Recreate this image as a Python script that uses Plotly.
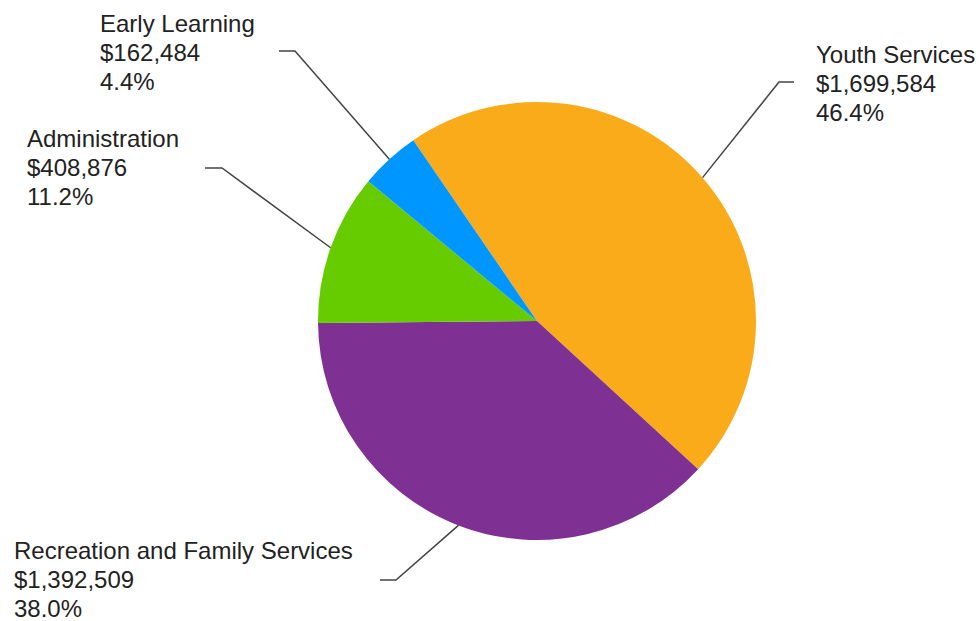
import math
import plotly.graph_objects as go

# ---- data ----
categories = ["Youth Services", "Recreation and Family Services", "Administration", "Early Learning"]
amounts = [1699584, 1392509, 408876, 162484]
slice_colors = ["#FAAB19", "#7F3193", "#66CC00", "#0096FF"]

# ---- layout constants (pixels) ----
W, H = 979, 621
CX, CY, R = 537, 321, 219
ROTATION = -34.4
FONT = 24
LINE_GAP = 28.8

# label anchors: left x, first baseline y
label_anchor = {
    "Youth Services": (815, 63),
    "Recreation and Family Services": (13, 559),
    "Administration": (26, 147),
    "Early Learning": (99, 32),
}
# leader elbow (x, y) and end x of short horizontal
leader_elbow = {
    "Youth Services": (779, 82, 794),
    "Recreation and Family Services": (396, 580, 380),
    "Administration": (222, 168, 205),
    "Early Learning": (295, 51, 279),
}


def px(x):
    return x / W


def py(y):
    return 1 - y / H


fig = go.Figure(
    go.Pie(
        labels=categories,
        values=amounts,
        sort=False,
        direction="clockwise",
        rotation=ROTATION,
        marker=dict(colors=slice_colors, line=dict(width=0)),
        textinfo="none",
        hoverinfo="label+value+percent",
        domain=dict(x=[px(CX - R), px(CX + R)], y=[py(CY + R), py(CY - R)]),
        showlegend=False,
    )
)

total = sum(amounts)
annotations = []
shapes = []
cum = 0.0
for name, v in zip(categories, amounts):
    frac = v / total
    mid = math.radians(ROTATION + 360 * (cum + frac / 2))
    cum += frac
    sx = CX + R * math.sin(mid)
    sy = CY - R * math.cos(mid)
    ex, ey, endx = leader_elbow[name]
    shapes.append(
        dict(
            type="path",
            xref="paper",
            yref="paper",
            path=f"M {px(sx)} {py(sy)} L {px(ex)} {py(ey)} L {px(endx)} {py(ey)}",
            line=dict(color="#444444", width=1.5),
        )
    )
    lines = [name, f"${v:,}", f"{100 * v / total:.1f}%"]
    lx, by = label_anchor[name]
    for i, t in enumerate(lines):
        base = by + i * LINE_GAP
        annotations.append(
            dict(
                text=t,
                x=px(lx),
                y=py(base - 8.3),
                xref="paper",
                yref="paper",
                xanchor="left",
                yanchor="middle",
                borderpad=0,
                showarrow=False,
                font=dict(size=FONT, color="#222222", family="Arial, Liberation Sans, sans-serif"),
            )
        )

fig.update_layout(
    width=W,
    height=H,
    margin=dict(l=0, r=0, t=0, b=0),
    paper_bgcolor="white",
    plot_bgcolor="white",
    annotations=annotations,
    shapes=shapes,
)

fig.write_html(
    "out.html",
    config={"displayModeBar": False},
    post_script="document.body.style.margin='0';document.body.style.overflow='hidden';",
)
